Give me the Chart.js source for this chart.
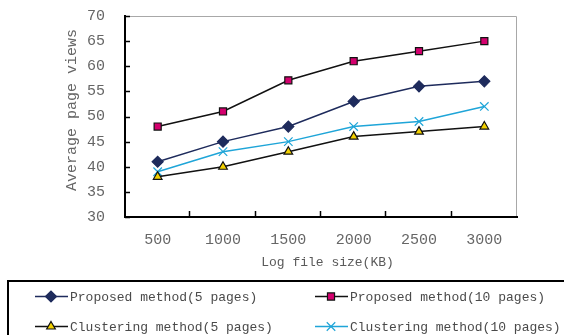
<!DOCTYPE html>
<html>
<head>
<meta charset="utf-8">
<script src="https://cdn.jsdelivr.net/npm/chart.js@4/dist/chart.umd.min.js"></script>
<style>
  body { margin: 0; background: #fff; }
  #wrap { width: 564px; height: 335px; }
</style>
</head>
<body>
<div id="wrap"><canvas id="chart" width="564" height="335"></canvas></div>
<script>
// data
const sizes = ["500", "1000", "1500", "2000", "2500", "3000"];
const proposed5 = [41, 45, 48, 53, 56, 57];
const proposed10 = [48, 51, 57.2, 61, 63, 65];
const clustering5 = [38, 40, 43, 46, 47, 48];
const clustering10 = [39, 43, 45, 48, 49, 52];
const yTicks = [30, 35, 40, 45, 50, 55, 60, 65, 70];

const FONT = "Liberation Mono";

// frame, inward tick marks, axis titles and boxed legend
const extras = {
    id: "extras",
    afterDraw(chart) {
        const ctx = chart.ctx;
        const a = chart.chartArea;
        ctx.save();

        // gray top/right border
        ctx.strokeStyle = "#a8a8a8";
        ctx.lineWidth = 1;
        ctx.beginPath();
        ctx.moveTo(a.left, a.top + 0.5);
        ctx.lineTo(a.right - 0.5, a.top + 0.5);
        ctx.lineTo(a.right - 0.5, a.bottom - 1);
        ctx.stroke();

        // inward tick marks
        ctx.strokeStyle = "#000";
        ctx.lineWidth = 1.5;
        const ys = chart.scales.y;
        ys.ticks.forEach(t => {
            const py = Math.round(ys.getPixelForValue(t.value)) + 0.5;
            ctx.beginPath();
            ctx.moveTo(a.left, py);
            ctx.lineTo(a.left + 5, py);
            ctx.stroke();
        });
        const n = sizes.length;
        for (let i = 1; i < n; i++) {
            const px = Math.round(a.left + (a.right - a.left) * i / n) - 0.5;
            ctx.beginPath();
            ctx.moveTo(px, a.bottom);
            ctx.lineTo(px, a.bottom - 6);
            ctx.stroke();
        }

        // axis titles
        ctx.fillStyle = "#5a5a5a";
        ctx.textAlign = "center";
        ctx.textBaseline = "middle";
        ctx.font = "13px " + FONT;
        ctx.fillText("Log file size(KB)", 327.5, 262.5);
        ctx.save();
        ctx.translate(72, 110);
        ctx.rotate(-Math.PI / 2);
        ctx.font = "15px " + FONT;
        ctx.fillStyle = "#666";
        ctx.fillText("Average page views", 0, 0);
        ctx.restore();

        // legend box
        ctx.strokeStyle = "#000";
        ctx.lineWidth = 2;
        ctx.strokeRect(8, 281, 600, 100);

        const spots = [[35, 296.5], [315, 296.5], [35, 326.5], [315, 326.5]];
        ctx.font = "13px " + FONT;
        chart.data.datasets.forEach((ds, i) => {
            const [lx, ly] = spots[i];
            ctx.strokeStyle = ds.borderColor;
            ctx.lineWidth = 1.5;
            ctx.beginPath();
            ctx.moveTo(lx, ly);
            ctx.lineTo(lx + 33, ly);
            ctx.stroke();
            ctx.fillStyle = ds.pointBackgroundColor;
            ctx.strokeStyle = ds.pointBorderColor;
            ctx.lineWidth = ds.pointBorderWidth;
            Chart.helpers.drawPoint(ctx, {
                pointStyle: ds.pointStyle,
                radius: ds.pointRadius,
                borderWidth: ds.pointBorderWidth,
                rotation: 0
            }, lx + 16, ly);
            ctx.fillStyle = "#4a4a4a";
            ctx.textAlign = "left";
            ctx.textBaseline = "middle";
            ctx.fillText(ds.label, lx + 35, ly + 1);
        });
        ctx.restore();
    }
};

function series(label, data, line, fill, border, style, radius) {
    return {
        label: label,
        data: data,
        borderColor: line,
        borderWidth: 1.5,
        pointStyle: style,
        pointRadius: radius,
        pointHoverRadius: radius,
        pointBackgroundColor: fill,
        pointBorderColor: border,
        pointBorderWidth: 1.2,
        tension: 0,
        fill: false
    };
}

new Chart(document.getElementById("chart"), {
    type: "line",
    data: {
        labels: sizes,
        datasets: [
            series("Proposed method(5 pages)", proposed5, "#1e2b5c", "#1e2b5c", "#1e2b5c", "rectRot", 5.5),
            series("Proposed method(10 pages)", proposed10, "#111", "#d4006e", "#111", "rect", 5),
            series("Clustering method(5 pages)", clustering5, "#111", "#f2d000", "#111", "triangle", 5),
            series("Clustering method(10 pages)", clustering10, "#1fa5d8", "#1fa5d8", "#1fa5d8", "crossRot", 6)
        ]
    },
    options: {
        responsive: false,
        animation: false,
        layout: { padding: { top: 16, right: 47, left: 0, bottom: 0 } },
        scales: {
            x: {
                type: "category",
                offset: true,
                grid: { display: false, drawTicks: false },
                border: { color: "#000", width: 2 },
                ticks: {
                    autoSkip: false,
                    maxRotation: 0,
                    padding: 14,
                    color: "#666",
                    font: { family: FONT, size: 15 }
                },
                afterFit: s => { s.height = 118; s.paddingLeft = 0; s.paddingRight = 0; }
            },
            y: {
                min: 30,
                max: 70,
                afterBuildTicks: s => { s.ticks = yTicks.map(v => ({ value: v })); },
                grid: { display: false, drawTicks: false },
                border: { color: "#000", width: 2 },
                ticks: {
                    padding: 20,
                    color: "#666",
                    font: { family: FONT, size: 15 }
                },
                afterFit: s => { s.width = 125; s.paddingTop = 0; s.paddingBottom = 0; }
            }
        },
        plugins: {
            legend: { display: false },
            tooltip: { enabled: false }
        }
    },
    plugins: [extras]
});
</script>
</body>
</html>
